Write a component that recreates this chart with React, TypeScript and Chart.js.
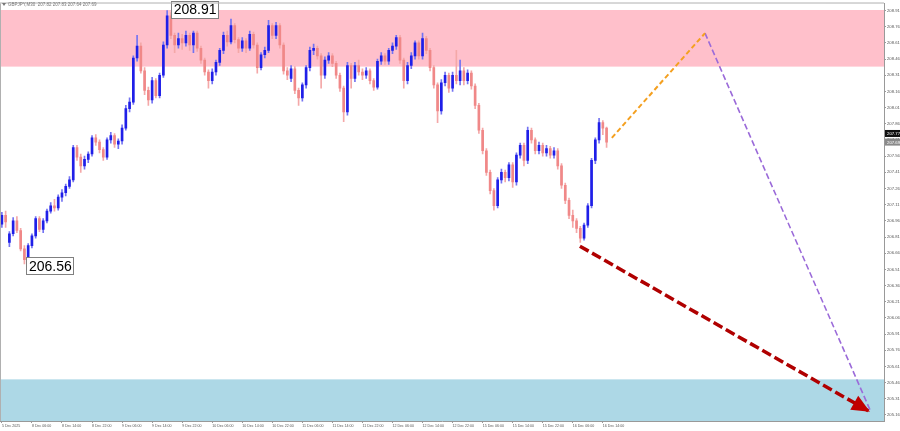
import { useEffect, useRef } from "react";
import { Chart, registerables } from "chart.js";

Chart.register(...registerables);

const symbolHeader = "GBPJPY,M30  207.82 207.83 207.64 207.69";

const xTickLabels = [
  "5 Dec 2025", "8 Dec 06:00", "8 Dec 14:00", "8 Dec 22:00", "9 Dec 06:00", "9 Dec 14:00",
  "9 Dec 22:00", "10 Dec 06:00", "10 Dec 14:00", "10 Dec 22:00", "11 Dec 06:00", "11 Dec 14:00",
  "11 Dec 22:00", "12 Dec 06:00", "12 Dec 14:00", "12 Dec 22:00", "15 Dec 06:00", "15 Dec 14:00",
  "15 Dec 22:00", "16 Dec 06:00", "16 Dec 14:00",
];
const barsPerLabel = 8;

const yTickValues = [
  208.91, 208.76, 208.61, 208.46, 208.31, 208.16, 208.01, 207.86, 207.71, 207.56, 207.41, 207.26, 207.11,
  206.96, 206.81, 206.66, 206.51, 206.36, 206.21, 206.06, 205.91, 205.76, 205.61, 205.46, 205.31, 205.16,
];

const opens = [
  206.93, 207.01, 206.76, 206.84, 206.96, 206.87, 206.70, 206.60, 206.73, 206.82,
  206.98, 206.88, 206.96, 207.05, 207.10, 207.08, 207.18, 207.22, 207.28, 207.34,
  207.64, 207.55, 207.47, 207.53, 207.58, 207.73, 207.69, 207.62, 207.55, 207.71,
  207.75, 207.67, 207.70, 207.82, 208.00, 208.06, 208.47, 208.58, 208.35, 208.17,
  208.08, 208.26, 208.12, 208.31, 208.59, 208.86, 208.68, 208.59, 208.65, 208.61,
  208.68, 208.59, 208.70, 208.56, 208.45, 208.34, 208.26, 208.34, 208.43, 208.54,
  208.68, 208.62, 208.77, 208.64, 208.56, 208.63, 208.56, 208.69, 208.59, 208.38,
  208.50, 208.54, 208.77, 208.68, 208.77, 208.59, 208.35, 208.28, 208.37, 208.17,
  208.10, 208.22, 208.38, 208.54, 208.56, 208.49, 208.31, 208.45, 208.49, 208.42,
  208.31, 208.19, 207.97, 208.40, 208.28, 208.40, 208.34, 208.31, 208.35, 208.26,
  208.20, 208.44, 208.49, 208.44, 208.54, 208.58, 208.66, 208.45, 208.26, 208.40,
  208.49, 208.61, 208.49, 208.65, 208.54, 208.38, 208.22, 207.98, 208.24, 208.31,
  208.19, 208.31, 208.26, 208.35, 208.26, 208.33, 208.21, 208.03, 207.80, 207.61,
  207.41, 207.24, 207.10, 207.34, 207.41, 207.36, 207.48, 207.32, 207.57, 207.66,
  207.52, 207.80, 207.71, 207.61, 207.66, 207.59, 207.63, 207.57, 207.61, 207.47,
  207.29, 207.15, 207.01, 206.96, 206.89, 206.80, 206.92, 207.10, 207.52, 207.71,
  207.87, 207.82,
];

const highs = [
  207.04, 207.05, 206.86, 206.99, 207.00, 206.89, 206.73, 206.75, 206.84, 207.00,
  207.00, 206.98, 207.07, 207.13, 207.16, 207.20, 207.25, 207.30, 207.37, 207.66,
  207.66, 207.58, 207.56, 207.60, 207.75, 207.76, 207.71, 207.64, 207.73, 207.78,
  207.77, 207.72, 207.85, 208.03, 208.10, 208.49, 208.68, 208.61, 208.38, 208.20,
  208.29, 208.28, 208.33, 208.62, 208.91, 208.89, 208.70, 208.70, 208.69, 208.72,
  208.70, 208.72, 208.72, 208.58, 208.47, 208.36, 208.37, 208.45, 208.56, 208.71,
  208.72, 208.83, 208.79, 208.66, 208.66, 208.65, 208.72, 208.71, 208.61, 208.52,
  208.57, 208.82, 208.79, 208.80, 208.79, 208.61, 208.38, 208.40, 208.39, 208.19,
  208.24, 208.40, 208.57, 208.60, 208.58, 208.51, 208.48, 208.52, 208.51, 208.44,
  208.33, 208.21, 208.43, 208.42, 208.43, 208.45, 208.37, 208.38, 208.37, 208.28,
  208.46, 208.52, 208.51, 208.56, 208.61, 208.68, 208.68, 208.47, 208.43, 208.52,
  208.63, 208.63, 208.70, 208.67, 208.56, 208.40, 208.24, 208.27, 208.34, 208.33,
  208.34, 208.54, 208.45, 208.38, 208.36, 208.35, 208.23, 208.05, 207.82, 207.63,
  207.43, 207.26, 207.36, 207.44, 207.43, 207.50, 207.50, 207.59, 207.68, 207.68,
  207.83, 207.82, 207.73, 207.69, 207.68, 207.66, 207.65, 207.64, 207.63, 207.49,
  207.31, 207.17, 207.06, 206.98, 206.91, 206.94, 207.12, 207.54, 207.73, 207.91,
  207.89, 207.83,
];

const lows = [
  206.90, 206.90, 206.72, 206.82, 206.85, 206.68, 206.56, 206.58, 206.71, 206.80,
  206.86, 206.85, 206.94, 207.03, 207.05, 207.06, 207.14, 207.19, 207.26, 207.32,
  207.52, 207.41, 207.44, 207.50, 207.56, 207.66, 207.59, 207.52, 207.53, 207.68,
  207.64, 207.63, 207.67, 207.80, 207.97, 208.04, 208.44, 208.33, 208.13, 208.03,
  208.05, 208.10, 208.10, 208.29, 208.56, 208.65, 208.52, 208.56, 208.55, 208.58,
  208.54, 208.52, 208.53, 208.42, 208.31, 208.19, 208.23, 208.31, 208.40, 208.51,
  208.58, 208.60, 208.61, 208.52, 208.53, 208.52, 208.54, 208.56, 208.33, 208.36,
  208.47, 208.52, 208.65, 208.65, 208.56, 208.32, 208.27, 208.25, 208.14, 208.03,
  208.07, 208.19, 208.35, 208.50, 208.46, 208.19, 208.28, 208.42, 208.39, 208.28,
  208.16, 207.88, 207.94, 208.19, 208.25, 208.31, 208.27, 208.28, 208.23, 208.17,
  208.18, 208.41, 208.41, 208.41, 208.51, 208.55, 208.42, 208.19, 208.23, 208.37,
  208.46, 208.46, 208.46, 208.51, 208.35, 208.19, 207.87, 207.95, 208.21, 208.15,
  208.16, 208.23, 208.22, 208.22, 208.23, 208.18, 208.00, 207.77, 207.58, 207.38,
  207.21, 207.06, 207.08, 207.31, 207.32, 207.33, 207.27, 207.29, 207.54, 207.47,
  207.49, 207.68, 207.58, 207.58, 207.56, 207.56, 207.54, 207.54, 207.44, 207.26,
  207.12, 206.98, 206.90, 206.85, 206.76, 206.78, 206.90, 207.08, 207.49, 207.68,
  207.76, 207.64,
];

const closes = [
  207.01, 206.95, 206.84, 206.96, 206.87, 206.70, 206.60, 206.73, 206.82, 206.98,
  206.88, 206.96, 207.05, 207.10, 207.08, 207.18, 207.22, 207.28, 207.34, 207.64,
  207.55, 207.47, 207.53, 207.58, 207.73, 207.69, 207.62, 207.55, 207.71, 207.75,
  207.67, 207.70, 207.82, 208.00, 208.06, 208.47, 208.58, 208.35, 208.17, 208.08,
  208.26, 208.12, 208.31, 208.59, 208.86, 208.68, 208.59, 208.65, 208.61, 208.68,
  208.59, 208.70, 208.56, 208.45, 208.34, 208.26, 208.34, 208.43, 208.54, 208.68,
  208.62, 208.77, 208.64, 208.56, 208.63, 208.56, 208.69, 208.59, 208.38, 208.50,
  208.54, 208.77, 208.68, 208.77, 208.59, 208.35, 208.31, 208.37, 208.17, 208.10,
  208.22, 208.38, 208.54, 208.56, 208.49, 208.31, 208.45, 208.49, 208.42, 208.31,
  208.19, 207.97, 208.40, 208.28, 208.40, 208.34, 208.31, 208.35, 208.26, 208.20,
  208.44, 208.49, 208.44, 208.54, 208.58, 208.66, 208.45, 208.26, 208.40, 208.49,
  208.61, 208.49, 208.65, 208.54, 208.38, 208.22, 207.98, 208.24, 208.31, 208.19,
  208.31, 208.26, 208.35, 208.26, 208.33, 208.21, 208.03, 207.80, 207.61, 207.41,
  207.24, 207.10, 207.34, 207.41, 207.36, 207.48, 207.32, 207.57, 207.66, 207.52,
  207.80, 207.71, 207.61, 207.66, 207.59, 207.63, 207.57, 207.61, 207.47, 207.29,
  207.15, 207.01, 206.96, 206.89, 206.80, 206.92, 207.10, 207.52, 207.71, 207.87,
  207.82, 207.69,
];

// zones (price ranges)
const resistanceZone = [208.39, 208.915];
const supportZone = [205.0, 205.49];

// forecast wave segments (bar index, price)
const orangeWave = [{ x: 162.4, y: 207.73 }, { x: 187.2, y: 208.7 }];
const purpleWave = [{ x: 187.2, y: 208.7 }, { x: 231.1, y: 205.21 }];
const redWave = [{ x: 153.9, y: 206.725 }, { x: 231.1, y: 205.19 }];

// ask / bid tags on the price axis
const quoteTags = [207.77, 207.69];

const X_MIN = -0.5;
const X_MAX = 234.86;
const Y_MIN = 205.104;
const Y_MAX = 208.975;

const UP_BODY = "#1f1fe8";
const UP_WICK = "#7373f2";
const DOWN_BODY = "#f08888";
const DOWN_WICK = "#f4a8a8";

const overlayPlugin = {
  id: "overlayPlugin",
  beforeDatasetsDraw(chart: any) {
    const { ctx, chartArea: a, scales } = chart;
    const y = scales.y;
    ctx.save();
    const r1 = Math.max(a.top, y.getPixelForValue(resistanceZone[1]));
    const r0 = y.getPixelForValue(resistanceZone[0]);
    ctx.fillStyle = "#ffc0cb";
    ctx.fillRect(a.left, r1, a.right - a.left, r0 - r1);
    const s1 = y.getPixelForValue(supportZone[1]);
    const s0 = Math.min(a.bottom, y.getPixelForValue(supportZone[0]));
    ctx.fillStyle = "#add8e6";
    ctx.fillRect(a.left, s1, a.right - a.left, s0 - s1);
    ctx.restore();
  },
  afterDatasetsDraw(chart: any) {
    const { ctx, chartArea: a, scales } = chart;
    const x = scales.x;
    const y = scales.y;
    ctx.save();

    // red arrow head
    const x0 = x.getPixelForValue(redWave[0].x);
    const y0 = y.getPixelForValue(redWave[0].y);
    const x1 = x.getPixelForValue(redWave[1].x);
    const y1 = y.getPixelForValue(redWave[1].y);
    const ang = Math.atan2(y1 - y0, x1 - x0);
    const len = 18;
    const half = 8;
    const c = Math.cos(ang);
    const s = Math.sin(ang);
    ctx.fillStyle = "#c00000";
    ctx.beginPath();
    ctx.moveTo(x1, y1);
    ctx.lineTo(x1 - len * c + half * s, y1 - len * s - half * c);
    ctx.lineTo(x1 - len * c - half * s, y1 - len * s + half * c);
    ctx.closePath();
    ctx.fill();

    // extreme labels
    const drawTag = (text: string, left: number, cy: number) => {
      ctx.font = "14px 'Liberation Sans', Arial, sans-serif";
      const w = ctx.measureText(text).width + 4;
      const h = 17;
      ctx.fillStyle = "#ffffff";
      ctx.fillRect(left, cy - h / 2, w, h);
      ctx.strokeStyle = "#808080";
      ctx.lineWidth = 1;
      ctx.strokeRect(Math.round(left) + 0.5, Math.round(cy - h / 2) + 0.5, Math.round(w), h);
      ctx.fillStyle = "#000000";
      ctx.textAlign = "left";
      ctx.textBaseline = "middle";
      ctx.fillText(text, left + 2.5, cy + 1);
    };
    const hiVal = Math.max(...highs);
    const hiIdx = highs.indexOf(hiVal);
    const loVal = Math.min(...lows);
    const loIdx = lows.indexOf(loVal);
    drawTag(hiVal.toFixed(2), x.getPixelForValue(hiIdx) + 4, y.getPixelForValue(hiVal) - 1);
    drawTag(loVal.toFixed(2), x.getPixelForValue(loIdx) + 2, y.getPixelForValue(loVal) + 2);

    // quote tags
    const tagColors = ["#111111", "#8a8a8a"];
    quoteTags.forEach((v, i) => {
      const py = y.getPixelForValue(v);
      ctx.fillStyle = tagColors[i];
      ctx.fillRect(a.right + 1, py - 3.5, chart.width - a.right - 1, 7);
      ctx.fillStyle = "#ffffff";
      ctx.font = "4.3px 'Liberation Sans', Arial, sans-serif";
      ctx.textAlign = "left";
      ctx.textBaseline = "middle";
      ctx.fillText(v.toFixed(2), a.right + 3, py + 0.3);
    });

    // borders
    ctx.strokeStyle = "#b0b0b0";
    ctx.lineWidth = 1;
    ctx.beginPath();
    ctx.moveTo(0, a.top - 0.5);
    ctx.lineTo(a.right, a.top - 0.5);
    ctx.moveTo(a.left + 0.5, a.top);
    ctx.lineTo(a.left + 0.5, a.bottom);
    ctx.stroke();

    // header
    ctx.fillStyle = "#777777";
    ctx.beginPath();
    ctx.moveTo(2, 3);
    ctx.lineTo(6, 3);
    ctx.lineTo(4, 6);
    ctx.closePath();
    ctx.fill();
    ctx.font = "4.5px 'Liberation Sans', Arial, sans-serif";
    ctx.textAlign = "left";
    ctx.textBaseline = "middle";
    ctx.fillText(symbolHeader, 8, 5);

    ctx.restore();
  },
};

export default function App() {
  const canvasRef = useRef<HTMLCanvasElement | null>(null);

  useEffect(() => {
    const canvas = canvasRef.current;
    if (!canvas) return;
    const idx = closes.map((_, i) => i);
    const isUp = idx.map((i) => closes[i] >= opens[i]);
    const wickData = idx.map((i) => ({ x: i, y: [lows[i], highs[i]] }));
    const bodyData = idx.map((i) => ({ x: i, y: [opens[i], closes[i]] }));

    const chart = new Chart(canvas, {
      type: "bar",
      data: {
        datasets: [
          {
            type: "line",
            data: orangeWave,
            borderColor: "#f4a020",
            borderWidth: 2,
            borderDash: [5, 3],
            pointRadius: 0,
            fill: false,
            order: 0,
          } as any,
          {
            type: "line",
            data: purpleWave,
            borderColor: "#9b6bd9",
            borderWidth: 1.6,
            borderDash: [6, 3],
            pointRadius: 0,
            fill: false,
            order: 0,
          } as any,
          {
            type: "line",
            data: redWave,
            borderColor: "#b00000",
            borderWidth: 3.5,
            borderDash: [10, 4],
            pointRadius: 0,
            fill: false,
            order: 0,
          } as any,
          {
            type: "bar",
            data: bodyData,
            backgroundColor: isUp.map((u) => (u ? UP_BODY : DOWN_BODY)),
            barThickness: 2,
            minBarLength: 1,
            grouped: false,
            order: 1,
          } as any,
          {
            type: "bar",
            data: wickData,
            backgroundColor: isUp.map((u) => (u ? UP_WICK : DOWN_WICK)),
            barThickness: 1,
            grouped: false,
            order: 2,
          } as any,
        ],
      },
      options: {
        animation: false,
        responsive: true,
        maintainAspectRatio: false,
        events: [],
        layout: { padding: { top: 3, left: 0, right: 0, bottom: 0 } },
        plugins: {
          legend: { display: false },
          tooltip: { enabled: false },
          title: { display: false },
        },
        scales: {
          x: {
            type: "linear",
            min: X_MIN,
            max: X_MAX,
            offset: false,
            grid: { drawOnChartArea: false, drawTicks: true, tickLength: 2, color: "#999999", offset: false },
            border: { display: true, color: "#999999" },
            ticks: {
              align: "start",
              autoSkip: false,
              maxRotation: 0,
              minRotation: 0,
              padding: 0.5,
              color: "#555555",
              font: { size: 3.6, family: "'Liberation Sans', Arial, sans-serif" },
              callback: (_v: any, i: number) => xTickLabels[i] ?? "",
            },
            afterBuildTicks: (sc: any) => {
              sc.ticks = xTickLabels.map((_, k) => ({ value: k * barsPerLabel }));
            },
            afterFit: (sc: any) => {
              sc.height = 10;
            },
          } as any,
          y: {
            type: "linear",
            position: "right",
            min: Y_MIN,
            max: Y_MAX,
            grid: { drawOnChartArea: false, drawTicks: true, tickLength: 2, color: "#999999" },
            border: { display: true, color: "#999999" },
            ticks: {
              autoSkip: false,
              padding: 1,
              color: "#555555",
              font: { size: 4.2, family: "'Liberation Sans', Arial, sans-serif" },
              callback: (v: any) => Number(v).toFixed(2),
            },
            afterBuildTicks: (sc: any) => {
              sc.ticks = yTickValues.map((v) => ({ value: v }));
            },
            afterFit: (sc: any) => {
              sc.width = 16;
            },
          } as any,
        },
      },
      plugins: [overlayPlugin],
    });

    return () => {
      chart.destroy();
    };
  }, []);

  return (
    <div
      style={{
        position: "absolute",
        left: 0,
        top: 0,
        width: 900,
        height: 431,
        background: "#ffffff",
      }}
    >
      <canvas ref={canvasRef} />
    </div>
  );
}
